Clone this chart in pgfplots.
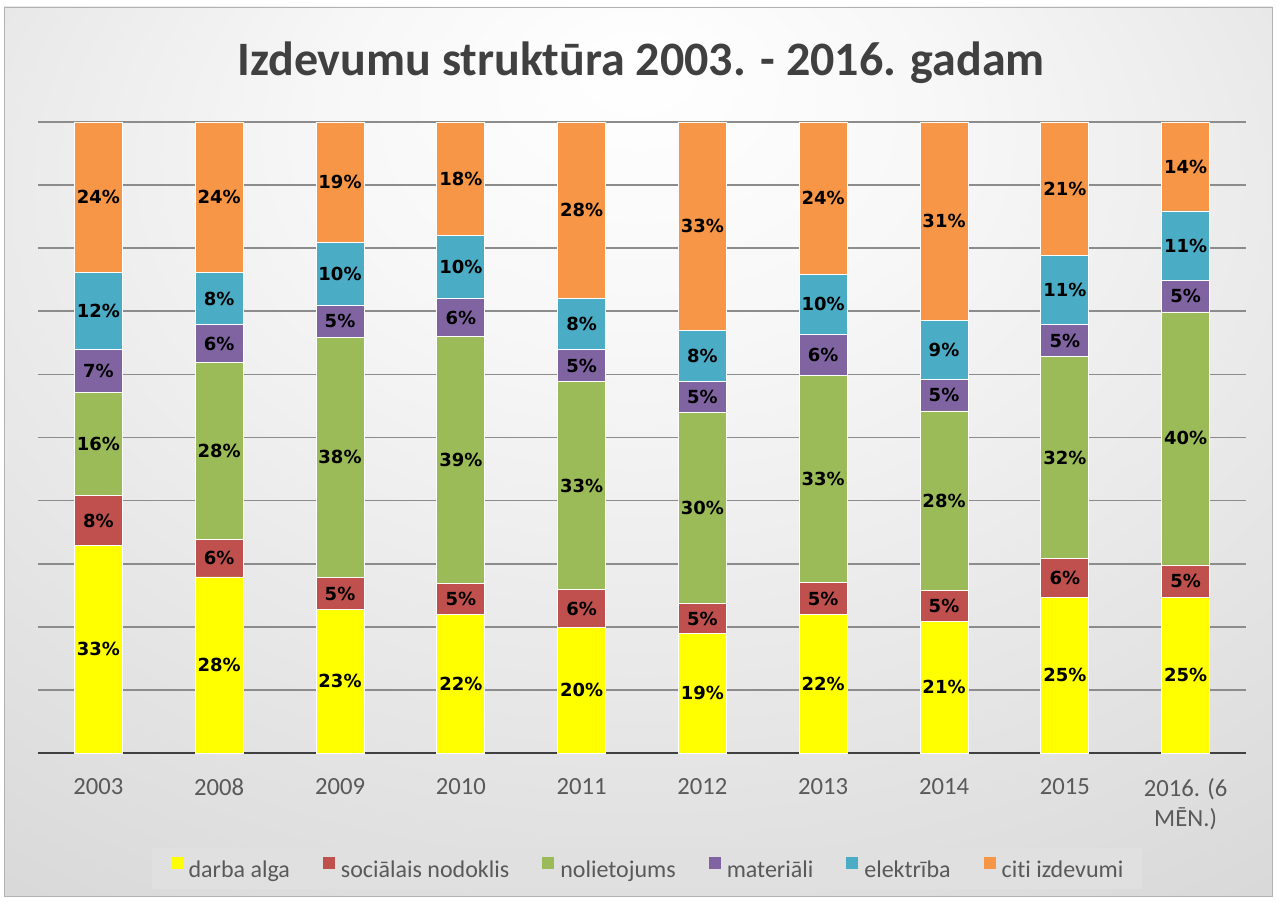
\documentclass[border=0pt]{standalone}
\usepackage{pgfplots}
\pgfplotsset{compat=1.18}
\usepackage{fontspec}
\setmainfont{Carlito}[Ligatures={NoCommon,NoContextual}]
\newfontfamily\labelfont{DejaVu Sans Bold}
\definecolor{cYel}{HTML}{FFFF00}
\definecolor{cRed}{HTML}{C0504D}
\definecolor{cGrn}{HTML}{9BBB59}
\definecolor{cPur}{HTML}{8064A2}
\definecolor{cBlu}{HTML}{4BACC6}
\definecolor{cOra}{HTML}{F79646}
\definecolor{txtgray}{HTML}{595959}
\definecolor{titlegray}{HTML}{404040}
\pgfdeclareradialshading{bgshade}{\pgfpoint{0bp}{22bp}}{color(0bp)=(white); color(12bp)=(white!97!black); color(45bp)=(white!84!black); color(75bp)=(white!76!black)}
\pgfplotsset{
  mylegend/.style={legend image code/.code={\fill[##1,draw=none] (0pt,0.5pt) rectangle (9pt,9.5pt);}},
}
% values in percent
\pgfplotstableread{
x darba soc nol mat ele citi
0 32.9 7.9 16.3 6.8 12.2 23.9
1 27.9 6.0 28.0 6.0 8.2 23.9
2 22.7 5.1 38.1 5.0 10.0 19.1
3 21.9 4.9 39.2 6.0 10.0 18.0
4 19.9 6.0 33.0 5.0 8.1 28.0
5 18.9 4.8 30.3 4.9 8.1 33.0
6 21.9 5.1 32.9 6.4 9.6 24.1
7 20.8 5.0 28.4 5.0 9.4 31.4
8 24.7 6.1 32.0 5.1 11.0 21.1
9 24.7 5.1 40.1 5.0 11.0 14.1
}\datatable
\begin{document}
\begin{tikzpicture}[x=0.75pt,y=0.75pt]
\fill[white] (0,0) rectangle (1277,902);
\shade[shading=bgshade, draw=black!30] (4,6) rectangle (1272,895);
\node[font=\fontsize{36}{42}\selectfont\bfseries, text=titlegray] at (641,839) {Izdevumu struktūra 2003. - 2016. gadam};
\begin{axis}[
  at={(28.5pt,111.75pt)}, anchor=south west,
  scale only axis, width=906pt, height=473.25pt,
  ybar stacked, bar width=36pt,
  xmin=-0.5, xmax=9.5, ymin=0, ymax=100,
  xtick={0,...,9},
  xticklabels={2003,2008,2009,2010,2011,2012,2013,2014,2015,{2016. (6\\MĒN.)}},
  xticklabel style={align=center, font=\fontsize{18.5}{22.5}\selectfont, text=txtgray, yshift=-15.5pt},
  ytick={0,10,...,100}, yticklabels={},
  ymajorgrids, grid style={draw=black!45, line width=1.3pt},
  axis line style={draw=none}, major tick length=0pt,
  clip=false,
  nodes near coords={\pgfmathprintnumber[fixed,precision=0,assume math mode=true]{\pgfplotspointmeta}\%},
  every node near coord/.append style={font=\labelfont\fontsize{13.5}{15}\selectfont, text=black, anchor=center},
  legend columns=6,
  legend style={at={(0.5041,-0.183)}, anchor=center, fill=white!88!black, draw=none,
    font=\fontsize{18}{22}\selectfont, text=txtgray, inner xsep=14pt, inner ysep=7pt,
    nodes={inner sep=0pt},
    /tikz/every odd column/.append style={column sep=4.5pt},
    /tikz/every even column/.append style={column sep=24.75pt}},
  legend cell align=left,
]
\addplot[fill=cYel, draw=white, line width=0.6pt, mylegend] table[x=x,y=darba] {\datatable};
\addplot[fill=cRed, draw=white, line width=0.6pt, mylegend] table[x=x,y=soc] {\datatable};
\addplot[fill=cGrn, draw=white, line width=0.6pt, mylegend] table[x=x,y=nol] {\datatable};
\addplot[fill=cPur, draw=white, line width=0.6pt, mylegend] table[x=x,y=mat] {\datatable};
\addplot[fill=cBlu, draw=white, line width=0.6pt, mylegend] table[x=x,y=ele] {\datatable};
\addplot[fill=cOra, draw=white, line width=0.6pt, mylegend] table[x=x,y=citi] {\datatable};
\legend{darba alga, sociālais nodoklis, nolietojums, materiāli, elektrība, citi izdevumi}
\draw[draw=black!75, line width=2.2pt] (rel axis cs:0,0) -- (rel axis cs:1,0);
\end{axis}
\end{tikzpicture}
\end{document}
